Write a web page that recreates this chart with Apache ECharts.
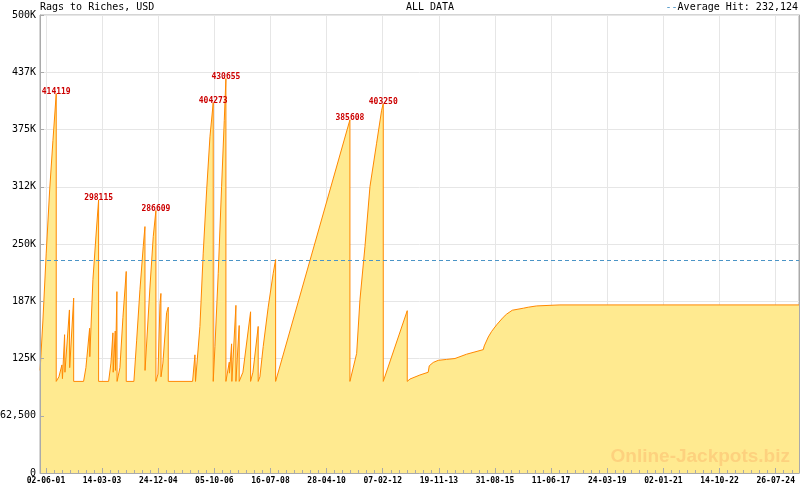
<!DOCTYPE html>
<html><head><meta charset="utf-8">
<script src="https://cdn.jsdelivr.net/npm/echarts@6/dist/echarts.min.js"></script>
<style>html,body{margin:0;padding:0;background:#fff}#c{width:800px;height:490px}</style>
</head><body><div id="c"></div>
<script>
// ---------------- data ----------------
const chartTitle = 'Rags to Riches, USD';
const rangeTitle = 'ALL DATA';
const averageHit = 232124;

const dates = [
 '2001-03-26','2001-04-28','2001-06-05','2001-07-15','2001-08-22','2001-09-29','2001-09-29',
 '2001-10-30','2001-12-04','2001-12-10','2002-01-04','2002-01-08','2002-03-01','2002-03-04','2002-04-19','2002-04-19',
 '2002-08-12','2002-09-08','2002-10-21','2002-10-23','2002-11-28','2003-01-05','2003-02-02','2003-02-02',
 '2003-05-29','2003-06-25','2003-07-18','2003-07-21','2003-08-14','2003-08-16','2003-09-02','2003-09-04',
 '2003-10-07','2003-11-11','2003-12-19','2003-12-19',
 '2004-03-17','2004-04-18','2004-05-26','2004-07-03','2004-07-23','2004-07-24','2004-09-19','2004-10-27','2004-11-27','2004-11-27',
 '2004-12-21','2005-01-13','2005-01-24','2005-01-25','2005-02-16','2005-03-31','2005-04-19','2005-04-19',
 '2006-01-26','2006-02-22','2006-03-01','2006-03-17','2006-04-21','2006-05-29','2006-07-08','2006-08-15','2006-09-22','2006-09-22',
 '2006-10-12','2006-11-19','2006-12-28','2007-01-28','2007-02-16','2007-02-16',
 '2007-03-27','2007-03-29','2007-04-23','2007-04-26','2007-06-12','2007-06-12','2007-07-20','2007-07-20',
 '2007-09-01','2007-11-29','2007-11-29','2007-12-26','2008-02-25','2008-02-25',
 '2008-03-16','2008-04-23','2008-06-20','2008-08-17','2008-09-14','2008-09-14',
 '2011-01-23','2011-01-23',
 '2011-02-12','2011-04-11','2011-05-19','2011-07-16','2011-09-12','2011-11-28','2012-01-25','2012-02-13','2012-02-13',
 '2012-11-17','2012-11-17',
 '2012-12-19','2013-04-13','2013-07-18','2013-07-30','2013-09-14','2013-11-11','2014-02-16','2014-05-24','2014-10-06',
 '2015-04-17','2015-04-28','2015-06-14','2015-07-23','2015-09-19','2015-12-04','2016-01-13','2016-03-18','2016-07-24',
 '2016-09-19','2016-12-26','2017-09-21','2025-04-22'
];
const values = [
 112000,167000,240000,309000,363000,414119,100000,
 105000,118000,103000,151000,110000,178000,115000,191000,100000,
 100000,115000,158000,127000,211000,262000,298115,100000,
 100000,120000,153000,110000,155000,112000,198000,100000,
 115000,170000,220000,100000,
 100000,145000,200000,247000,269000,112000,203000,258000,286609,100000,
 108000,185000,196000,105000,120000,175000,181000,100000,
 100000,129000,100000,100000,160000,240000,309000,367000,404273,100000,
 138000,218000,313000,385000,430655,100000,
 121000,109000,141000,100000,183000,100000,161000,100000,
 110000,176000,100000,110000,160000,100000,
 105000,138000,181000,218000,233000,100000,
 385608,100000,
 100000,130600,189000,247000,312600,360000,396000,403250,100000,
 177200,100000,
 102600,107000,110000,117000,120700,123000,124000,125000,129700,
 134700,138700,148500,154600,161800,170000,173500,177700,179900,
 181000,182400,183500,183500
];
const peakValues = [414119, 298115, 286609, 404273, 430655, 385608, 403250];

const xTickDates = ['2001-06-02','2003-03-14','2004-12-24','2006-10-05','2008-07-16','2010-04-28','2012-02-07',
 '2013-11-19','2015-08-31','2017-06-11','2019-03-24','2021-01-02','2022-10-14','2024-07-26'];
const xRange = ['2001-03-25','2025-04-22'];
const yMax = 500000;
const yStep = 62500;

// ---------------- helpers ----------------
const ts = s => { const [y,m,d] = s.split('-').map(Number); return Date.UTC(y, m - 1, d); };
const p2 = n => String(n).padStart(2, '0');
const fmtDate = v => { const dt = new Date(v); return p2(dt.getUTCDate()) + '-' + p2(dt.getUTCMonth() + 1) + '-' + p2(dt.getUTCFullYear() % 100); };
const fmtY = v => v === 0 ? '0' : (v % 1000 === 0 ? (v / 1000) + 'K' : (v < 100000 ? v.toLocaleString('en-US') : Math.floor(v / 1000) + 'K'));

const xMin = ts(xRange[0]), xMax = ts(xRange[1]);
const seriesData = dates.map((d, i) => [ts(d), values[i]]);
const majorTicks = xTickDates.map(ts);
const minorTicks = [];
for (let i = 0; i < majorTicks.length - 1; i++) {
  const st = (majorTicks[i + 1] - majorTicks[i]) / 7;
  for (let k = 1; k < 7; k++) minorTicks.push(majorTicks[i] + k * st);
}
{
  const st = (majorTicks[majorTicks.length - 1] - majorTicks[majorTicks.length - 2]) / 7;
  for (let t = majorTicks[majorTicks.length - 1] + st; t < xMax; t += st) minorTicks.push(t);
}
const peaks = seriesData.filter(p => peakValues.includes(p[1]));

const MONO = 'DejaVu Sans Mono';
const AXIS_C = '#aaaaaa';
const GRID_C = '#e6e6e6';

const chart = echarts.init(document.getElementById('c'), null, { renderer: 'canvas' });
chart.setOption({
  animation: false,
  backgroundColor: '#ffffff',
  grid: { left: 40, right: 1, top: 15, bottom: 17, containLabel: false, outerBoundsMode: 'none',
          show: true, borderColor: AXIS_C, borderWidth: 1, backgroundColor: 'transparent' },
  xAxis: [
    { // data axis: labels + vertical grid
      type: 'value', min: xMin, max: xMax, z: 1,
      axisLine: { show: false },
      axisTick: { show: false, customValues: majorTicks },
      axisLabel: { customValues: majorTicks, formatter: fmtDate, fontFamily: MONO, fontSize: 8, fontWeight: 'bold', color: '#000', margin: 4 },
      splitLine: { show: true, lineStyle: { color: GRID_C, width: 1 } }
    },
    { // axis line + major ticks (above the fill)
      type: 'value', min: xMin, max: xMax, position: 'bottom', z: 3,
      axisLine: { show: true, lineStyle: { color: AXIS_C, width: 1 } },
      axisTick: { show: true, inside: true, length: 5, customValues: majorTicks, lineStyle: { color: AXIS_C } },
      axisLabel: { show: false }, splitLine: { show: false }
    },
    { // minor ticks
      type: 'value', min: xMin, max: xMax, position: 'bottom', z: 3,
      axisLine: { show: false },
      axisTick: { show: true, inside: true, length: 3, customValues: minorTicks, lineStyle: { color: AXIS_C } },
      axisLabel: { show: false }, splitLine: { show: false }
    }
  ],
  yAxis: [
    {
      type: 'value', min: 0, max: yMax, interval: yStep, z: 1,
      axisLine: { show: false }, axisTick: { show: false },
      axisLabel: { formatter: fmtY, fontFamily: MONO, fontSize: 10, color: '#000', margin: 4 },
      splitLine: { show: true, lineStyle: { color: GRID_C, width: 1 } }
    },
    {
      type: 'value', min: 0, max: yMax, interval: yStep, position: 'left', z: 3,
      axisLine: { show: true, onZero: false, lineStyle: { color: AXIS_C, width: 1 } },
      axisTick: { show: true, inside: true, length: 4, lineStyle: { color: AXIS_C } },
      axisLabel: { show: false }, splitLine: { show: false }
    },
    {
      type: 'value', min: 0, max: yMax, interval: yStep, position: 'right', z: 3,
      axisLine: { show: true, onZero: false, lineStyle: { color: AXIS_C, width: 1 } },
      axisTick: { show: false }, axisLabel: { show: false }, splitLine: { show: false }
    }
  ],
  series: [{
    type: 'line', xAxisIndex: 0, yAxisIndex: 0, z: 2,
    data: seriesData,
    symbol: 'none', showSymbol: false,
    lineStyle: { color: '#ff8800', width: 1 },
    areaStyle: { color: '#ffea90', opacity: 1 },
    markLine: {
      silent: true, symbol: 'none', label: { show: false },
      lineStyle: { color: '#4a94c6', type: [4, 3], width: 1 },
      data: [{ yAxis: averageHit }]
    },
    markPoint: {
      silent: true, symbol: 'circle', symbolSize: 1,
      itemStyle: { color: 'rgba(0,0,0,0)' },
      label: { show: true, position: 'top', distance: -2.5, color: '#cc0000', fontFamily: MONO, fontSize: 8, fontWeight: 'bold', formatter: p => String(p.value) },
      data: peaks.map(p => ({ coord: p, value: p[1] }))
    }
  }],
  graphic: [
    { type: 'text', x: 40, y: 7, z: 100, style: { text: chartTitle, font: '10px "DejaVu Sans Mono"', fill: '#000', textAlign: 'left', textVerticalAlign: 'middle' } },
    { type: 'text', x: 430, y: 7, z: 100, style: { text: rangeTitle, font: '10px "DejaVu Sans Mono"', fill: '#000', textAlign: 'center', textVerticalAlign: 'middle' } },
    { type: 'text', x: 798, y: 7, z: 100, style: {
        text: '{d|--}Average Hit: ' + averageHit.toLocaleString('en-US'),
        font: '10px "DejaVu Sans Mono"', fill: '#000', textAlign: 'right', textVerticalAlign: 'middle',
        rich: { d: { fill: '#4a94c6', font: '10px "DejaVu Sans Mono"' } } } },
    { type: 'text', x: 790, y: 457, z: 100, style: { text: 'Online-Jackpots.biz', font: 'bold 19px "Liberation Sans"', fill: '#fdd17e', textAlign: 'right', textVerticalAlign: 'middle' } }
  ]
});
</script>
</body></html>
